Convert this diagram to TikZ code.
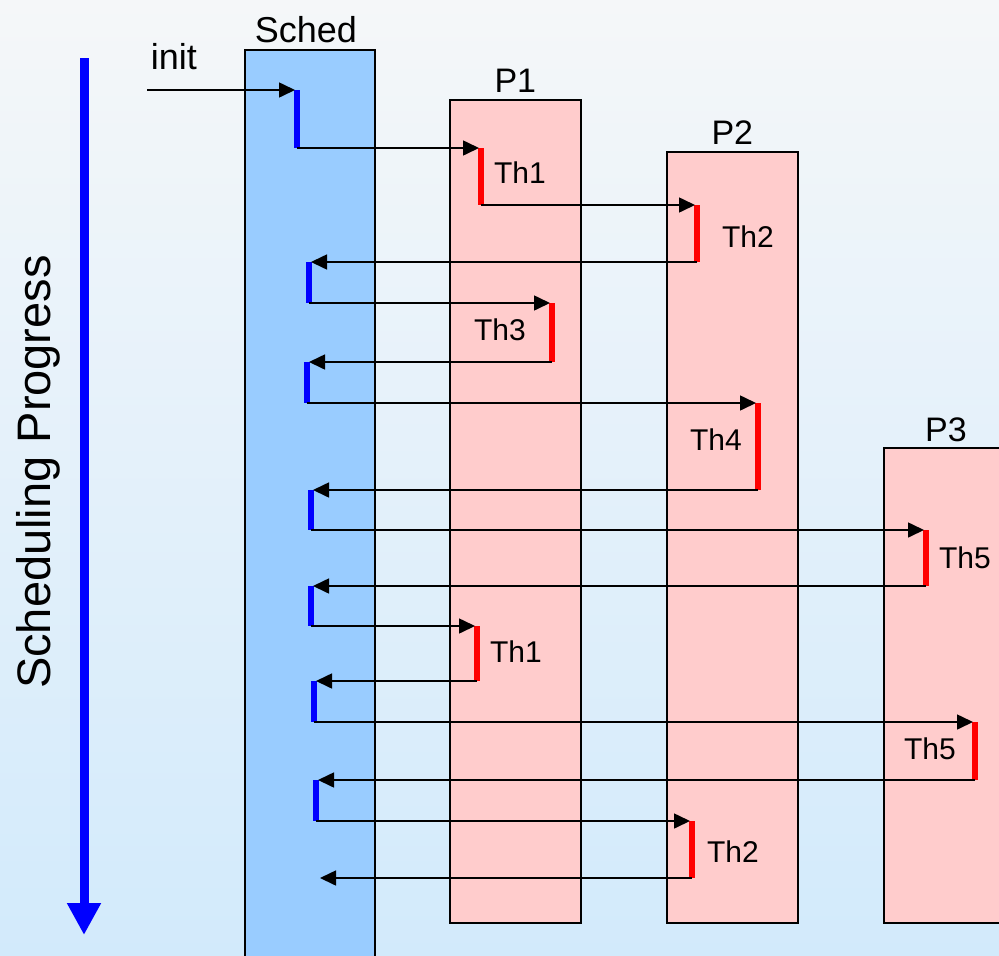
\documentclass[tikz,border=0pt]{standalone}
\usepackage{fontspec}
\setmainfont{Liberation Sans}
\usetikzlibrary{arrows.meta}
\definecolor{bgtop}{HTML}{F5F7F9}
\definecolor{bgbot}{HTML}{D2EAFB}
\definecolor{schedfill}{HTML}{99CCFF}
\definecolor{procfill}{HTML}{FFCCCC}
\tikzset{
  box/.style={draw=black, line width=1.6pt, anchor=north west, inner sep=0pt},
  schedbox/.style={box, fill=schedfill},
  procbox/.style={box, fill=procfill},
  title/.style={font=\fontsize{34}{40}\selectfont, anchor=south, inner sep=0pt},
  thlabel/.style={font=\fontsize{30}{35}\selectfont, inner sep=0pt},
  sbar/.style={draw=blue, line width=5.5pt},
  tbar/.style={draw=red, line width=5.5pt},
  msg/.style={draw=black, line width=1.6pt, -{Triangle[length=16pt,width=15pt]}, shorten >=2pt},
}
\begin{document}
\begin{tikzpicture}[x=1pt,y=-1pt]
\clip (0,0) rectangle (999,956);
\shade[top color=bgtop, bottom color=bgbot] (0,0) rectangle (999,956);

% boxes
\node[schedbox, minimum width=130pt, minimum height=930pt] (sched) at (244,49) {};
\node[procbox, minimum width=131pt, minimum height=823pt] (p1) at (449,99) {};
\node[procbox, minimum width=131pt, minimum height=771pt] (p2) at (666,151) {};
\node[procbox, minimum width=140pt, minimum height=475pt] (p3) at (883,447) {};
\node[title, font=\fontsize{36}{42}\selectfont] (schedt) at ([xshift=-4pt,yshift=6pt]sched.north) {Sched};
\node[title] (p1t) at ([yshift=6pt]p1.north) {P1};
\node[title] (p2t) at ([yshift=6pt]p2.north) {P2};
\node[title] (p3t) at (946,442) {P3};

% progress arrow
\coordinate (pgs) at (84,58);
\coordinate (pge) at (84,935);
\draw[blue, line width=9pt, -{Triangle[length=32pt,width=32pt]}] (pgs) -- (pge);
\node[font=\fontsize{47}{52}\selectfont, rotate=90, inner sep=0pt] (prog) at (38,472) {Scheduling Progress};

% init
\coordinate (ini) at (147,90);
\node[font=\fontsize{36}{42}\selectfont, inner sep=0pt] (initl) at (174,57) {init};

% scheduler bars
\coordinate (b1t) at (297,90);  \coordinate (b1b) at (297,148);
\coordinate (b2t) at (309,262); \coordinate (b2b) at (309,303);
\coordinate (b3t) at (307,362); \coordinate (b3b) at (307,403);
\coordinate (b4t) at (311,490); \coordinate (b4b) at (311,530);
\coordinate (b5t) at (311,586); \coordinate (b5b) at (311,626);
\coordinate (b6t) at (314,681); \coordinate (b6b) at (314,722);
\coordinate (b7t) at (316,780); \coordinate (b7b) at (316,821);
\coordinate (bend) at (318,878);
\foreach \i in {1,...,7} \draw[sbar] (b\i t) -- (b\i b);

% thread bars
\coordinate (t1t) at (481,148); \coordinate (t1b) at (481,205);
\coordinate (t2t) at (697,205); \coordinate (t2b) at (697,262);
\coordinate (t3t) at (552,303); \coordinate (t3b) at (552,362);
\coordinate (t4t) at (758,403); \coordinate (t4b) at (758,490);
\coordinate (t5t) at (926,530); \coordinate (t5b) at (926,586);
\coordinate (t6t) at (477,626); \coordinate (t6b) at (477,681);
\coordinate (t7t) at (975,722); \coordinate (t7b) at (975,780);
\coordinate (t8t) at (692,821); \coordinate (t8b) at (692,878);
\foreach \i in {1,...,8} \draw[tbar] (t\i t) -- (t\i b);

% messages
\draw[msg] (ini) -- (b1t);
\draw[msg] (b1b) -- (t1t);
\draw[msg] (t1b) -- (t2t);
\draw[msg] (t2b) -- (b2t);
\draw[msg] (b2b) -- (t3t);
\draw[msg] (t3b) -- (b3t);
\draw[msg] (b3b) -- (t4t);
\draw[msg] (t4b) -- (b4t);
\draw[msg] (b4b) -- (t5t);
\draw[msg] (t5b) -- (b5t);
\draw[msg] (b5b) -- (t6t);
\draw[msg] (t6b) -- (b6t);
\draw[msg] (b6b) -- (t7t);
\draw[msg] (t7b) -- (b7t);
\draw[msg] (b7b) -- (t8t);
\draw[msg] (t8b) -- (bend);

% thread labels
\node[thlabel] (l1) at (520,173) {Th1};
\node[thlabel] (l2) at (748,237) {Th2};
\node[thlabel] (l3) at (500,330) {Th3};
\node[thlabel] (l4) at (716,440) {Th4};
\node[thlabel] (l5) at (965,558) {Th5};
\node[thlabel] (l6) at (516,652) {Th1};
\node[thlabel] (l7) at (930,749) {Th5};
\node[thlabel] (l8) at (733,852) {Th2};
\end{tikzpicture}
\end{document}
